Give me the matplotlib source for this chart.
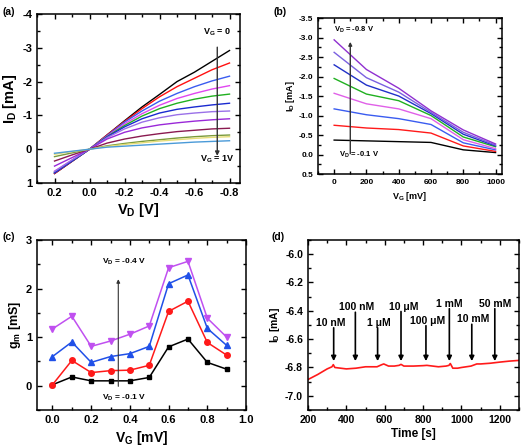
import matplotlib
matplotlib.use("Agg")
import matplotlib.pyplot as plt
from matplotlib.ticker import AutoMinorLocator, MultipleLocator

plt.rcParams['font.family'] = ['Liberation Sans', 'DejaVu Sans']
plt.rcParams['font.weight'] = 'bold'
plt.rcParams['mathtext.fontset'] = 'custom'
plt.rcParams['mathtext.rm'] = 'Liberation Sans:bold'
plt.rcParams['mathtext.it'] = 'Liberation Sans:bold'
plt.rcParams['mathtext.bf'] = 'Liberation Sans:bold'
plt.rcParams['axes.linewidth'] = 1.1
plt.rcParams['axes.unicode_minus'] = False

# ---------------- data (a) ----------------
vd_a = [0.2, 0.1, 0.0, -0.1, -0.2, -0.3, -0.4, -0.5, -0.6, -0.7, -0.8]
id_a_0 = [0.72, 0.36, 0, -0.42, -0.84, -1.25, -1.62, -2.0, -2.28, -2.6, -2.92]
id_a_1 = [0.72, 0.36, 0, -0.42, -0.82, -1.2, -1.55, -1.85, -2.1, -2.35, -2.55]
id_a_2 = [0.70, 0.35, 0, -0.40, -0.80, -1.13, -1.42, -1.65, -1.85, -2.02, -2.16]
id_a_3 = [0.65, 0.32, 0, -0.38, -0.75, -1.05, -1.30, -1.50, -1.65, -1.78, -1.88]
id_a_4 = [0.68, 0.34, 0, -0.37, -0.70, -0.98, -1.20, -1.36, -1.48, -1.57, -1.63]
id_a_5 = [0.70, 0.35, 0, -0.36, -0.66, -0.90, -1.07, -1.18, -1.25, -1.31, -1.36]
id_a_6 = [0.66, 0.32, 0, -0.34, -0.60, -0.80, -0.93, -1.02, -1.07, -1.11, -1.13]
id_a_7 = [0.50, 0.25, 0, -0.30, -0.50, -0.63, -0.72, -0.78, -0.83, -0.87, -0.90]
id_a_8 = [0.35, 0.17, 0, -0.18, -0.30, -0.39, -0.46, -0.52, -0.56, -0.60, -0.62]
id_a_9 = [0.22, 0.11, 0, -0.10, -0.17, -0.23, -0.28, -0.33, -0.37, -0.40, -0.42]
id_a_10 = [0.15, 0.07, 0, -0.08, -0.14, -0.19, -0.24, -0.28, -0.32, -0.35, -0.37]
id_a_11 = [0.12, 0.06, 0, -0.06, -0.09, -0.12, -0.15, -0.18, -0.21, -0.23, -0.25]
curves_a = [id_a_0, id_a_1, id_a_2, id_a_3, id_a_4, id_a_5, id_a_6, id_a_7,
            id_a_8, id_a_9, id_a_10, id_a_11]
colors_a = ['black', '#ff1010', '#3a5cf0', '#e046f0', '#20b020', '#1a2ad0',
            '#9a70e8', '#9a28d8', '#8a1a50', '#7a9a3a', '#e6de78', '#4a9ad8']

# ---------------- data (b) ----------------
vg_b = [0, 200, 400, 600, 800, 1000]
id_b_1 = [-0.37, -0.35, -0.33, -0.31, -0.12, -0.05]
id_b_2 = [-0.75, -0.68, -0.64, -0.55, -0.22, -0.08]
id_b_3 = [-1.17, -1.02, -0.92, -0.77, -0.30, -0.12]
id_b_4 = [-1.57, -1.30, -1.17, -0.92, -0.38, -0.15]
id_b_5 = [-1.95, -1.55, -1.38, -1.00, -0.45, -0.20]
id_b_6 = [-2.30, -1.78, -1.50, -1.05, -0.52, -0.22]
id_b_7 = [-2.62, -1.97, -1.60, -1.08, -0.57, -0.24]
id_b_8 = [-2.94, -2.18, -1.70, -1.12, -0.63, -0.27]
curves_b = [id_b_1, id_b_2, id_b_3, id_b_4, id_b_5, id_b_6, id_b_7, id_b_8]
colors_b = ['black', '#ff1a1a', '#3a5cf0', '#e060e8', '#20b020', '#2030c8',
            '#7a60e0', '#9030d0']

# ---------------- data (c) ----------------
vg_c = [0.0, 0.1, 0.2, 0.3, 0.4, 0.5, 0.6, 0.7, 0.8, 0.9]
gm_01 = [0.02, 0.18, 0.10, 0.10, 0.10, 0.17, 0.80, 0.96, 0.48, 0.34]
gm_02 = [0.02, 0.52, 0.27, 0.31, 0.32, 0.42, 1.53, 1.74, 0.89, 0.63]
gm_03 = [0.60, 0.90, 0.48, 0.60, 0.66, 0.81, 2.10, 2.28, 1.18, 0.83]
gm_04 = [1.17, 1.43, 0.81, 0.92, 1.06, 1.23, 2.43, 2.56, 1.39, 1.00]

# ---------------- data (d) ----------------
time_d = [200, 250, 300, 325, 332, 340, 370, 400, 450, 500, 560, 585, 595, 620,
          650, 675, 685, 700, 750, 800, 820, 880, 920, 935, 942, 955, 980, 1000,
          1050, 1080, 1100, 1150, 1200, 1250, 1300]
id_d = [-6.885, -6.85, -6.81, -6.795, -6.78, -6.80, -6.805, -6.81, -6.805,
        -6.795, -6.795, -6.78, -6.775, -6.79, -6.79, -6.785, -6.778, -6.79,
        -6.79, -6.787, -6.785, -6.795, -6.79, -6.785, -6.772, -6.805, -6.805,
        -6.80, -6.79, -6.775, -6.775, -6.77, -6.762, -6.755, -6.75]
conc_labels = ['10 nM', '100 nM', '1 μM', '10 μM', '100 μM', '1 mM', '10 mM', '50 mM']
conc_times = [334, 447, 563, 685, 815, 937, 1054, 1174]
conc_text_x = [318, 454, 572, 699, 826, 936, 1059, 1176]
conc_text_y = [-6.485, -6.375, -6.485, -6.37, -6.47, -6.35, -6.46, -6.35]

fig = plt.figure(figsize=(5.22, 4.47), dpi=100)


def style(ax, fs):
    ax.tick_params(which='both', direction='in', top=True, right=True,
                   labelsize=fs, width=1.0)
    ax.tick_params(which='major', length=3.5)
    ax.tick_params(which='minor', length=2)
    ax.xaxis.set_minor_locator(AutoMinorLocator(2))
    ax.yaxis.set_minor_locator(AutoMinorLocator(2))
    for lab in ax.get_xticklabels() + ax.get_yticklabels():
        lab.set_fontweight('bold')


# (a)
axa = fig.add_axes([0.0709, 0.5906, 0.3889, 0.3781])
for y, c in zip(curves_a, colors_a):
    axa.plot(vd_a, y, color=c, lw=1.0)
axa.set_xlim(0.3, -0.86)
axa.set_ylim(1, -4)
axa.yaxis.set_major_locator(MultipleLocator(1))
axa.set_xticks([0.2, 0.0, -0.2, -0.4, -0.6, -0.8])
axa.set_xticklabels(['0.2', '0.0', '-0.2', '-0.4', '-0.6', '-0.8'])
style(axa, 8)
axa.set_xlabel('$V_D$ [V]', fontsize=10.5, fontweight='bold', labelpad=2)
axa.set_ylabel('$I_D$ [mA]', fontsize=10.5, fontweight='bold', labelpad=2)
axa.annotate('', xy=(-0.73, 0.28), xytext=(-0.73, -3.1),
             arrowprops=dict(arrowstyle='-|>', color='#333333', lw=1.0,
                             mutation_scale=6))
axa.text(-0.73, -3.45, '$V_G$ = 0', ha='center', va='center', fontsize=6.5)
axa.text(-0.73, 0.3, '$V_G$ = 1V', ha='center', va='center', fontsize=6.5)
fig.text(0.004, 0.985, '(a)', fontsize=7.5, fontweight='bold', va='top')

# (b)
axb = fig.add_axes([0.6092, 0.6107, 0.3525, 0.349])
for y, c in zip(curves_b, colors_b):
    axb.plot(vg_b, y, color=c, lw=1.0)
axb.set_xlim(-100, 1040)
axb.set_ylim(0.5, -3.5)
axb.xaxis.set_major_locator(MultipleLocator(200))
axb.set_yticks([-3.5, -3.0, -2.5, -2.0, -1.5, -1.0, -0.5, 0.0, 0.5])
axb.set_yticklabels(['-3.5', '-3.0', '-2.5', '-2.0', '-1.5', '-1.0', '-0.5', '0.0', '0.5'])
style(axb, 6)
axb.set_xlabel('$V_G$ [mV]', fontsize=6.5, fontweight='bold', labelpad=3)
axb.set_ylabel('$I_D$ [mA]', fontsize=6.5, fontweight='bold', labelpad=1)
axb.annotate('', xy=(100, -2.96), xytext=(100, 0.05),
             arrowprops=dict(arrowstyle='-|>', color='#333333', lw=1.0,
                             mutation_scale=5))
axb.text(0, -3.2, '$V_D$ = -0.8 V', ha='left', va='center', fontsize=5.5)
axb.text(30, 0.0, '$V_D$ = -0.1 V', ha='left', va='center', fontsize=5.5)
fig.text(0.524, 0.985, '(b)', fontsize=7.5, fontweight='bold', va='top')

# (c)
axc = fig.add_axes([0.0709, 0.0828, 0.4004, 0.3803])
axc.plot(vg_c, gm_01, color='black', marker='s', ms=3.5, lw=1.1)
axc.plot(vg_c, gm_02, color='#ff1a1a', marker='o', ms=4, lw=1.1)
axc.plot(vg_c, gm_03, color='#2050e8', marker='^', ms=4, lw=1.1)
axc.plot(vg_c, gm_04, color='#c050f0', marker='v', ms=4, lw=1.1)
axc.set_xlim(-0.08, 1.0)
axc.set_ylim(-0.5, 3)
axc.yaxis.set_major_locator(MultipleLocator(1))
axc.set_xticks([0.0, 0.2, 0.4, 0.6, 0.8, 1.0])
axc.set_xticklabels(['0.0', '0.2', '0.4', '0.6', '0.8', '1.0'])
style(axc, 8)
axc.set_xlabel('$V_G$ [mV]', fontsize=10, fontweight='bold', labelpad=3)
axc.set_ylabel('$g_m$ [mS]', fontsize=9, fontweight='bold', labelpad=2)
axc.annotate('', xy=(0.34, 2.25), xytext=(0.34, -0.07),
             arrowprops=dict(arrowstyle='-|>', color='#333333', lw=0.8,
                             mutation_scale=5))
axc.text(0.37, 2.55, '$V_D$ = -0.4 V', ha='center', va='center', fontsize=6)
axc.text(0.37, -0.25, '$V_D$ = -0.1 V', ha='center', va='center', fontsize=6)
fig.text(0.004, 0.48, '(c)', fontsize=7.5, fontweight='bold', va='top')

# (d)
axd = fig.add_axes([0.590, 0.0828, 0.4042, 0.3803])
axd.plot(time_d, id_d, color='#ff1a1a', lw=1.2)
axd.set_xlim(200, 1300)
axd.set_ylim(-7.1, -5.9)
axd.xaxis.set_major_locator(MultipleLocator(200))
axd.set_yticks([-7.0, -6.8, -6.6, -6.4, -6.2, -6.0])
axd.set_yticklabels(['-7.0', '-6.8', '-6.6', '-6.4', '-6.2', '-6.0'])
style(axd, 7.5)
axd.set_xlabel('Time [s]', fontsize=8.5, fontweight='bold', labelpad=2)
axd.set_ylabel('$I_D$ [mA]', fontsize=7.5, fontweight='bold', labelpad=2)
for lab, t, tx, ty in zip(conc_labels, conc_times, conc_text_x, conc_text_y):
    axd.annotate('', xy=(t, -6.755), xytext=(t, ty - 0.035),
                 arrowprops=dict(arrowstyle='-|>', color='black', lw=1.2,
                                 mutation_scale=7, shrinkA=0, shrinkB=0))
    axd.text(tx, ty, lab, ha='center', va='center', fontsize=7.5,
             fontweight='bold')
fig.text(0.521, 0.48, '(d)', fontsize=7.5, fontweight='bold', va='top')

fig.savefig('out.png', dpi=100)
